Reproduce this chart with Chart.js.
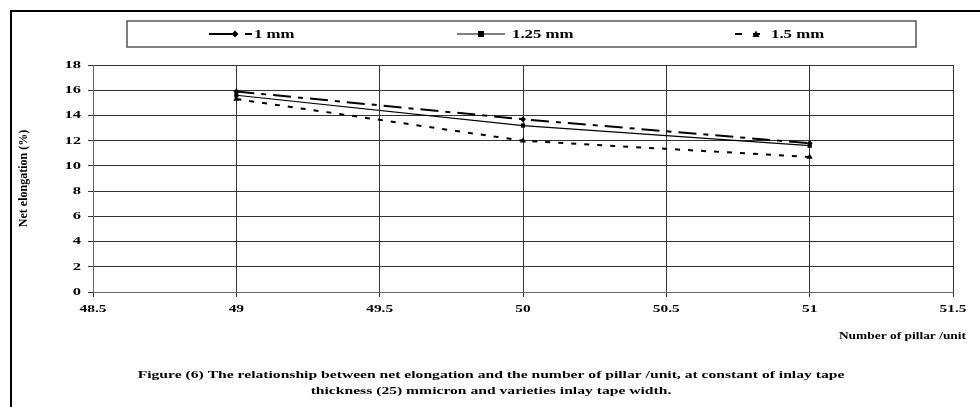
<!DOCTYPE html>
<html>
<head>
<meta charset="utf-8">
<script src="https://cdn.jsdelivr.net/npm/chart.js@4.4.1/dist/chart.umd.min.js"></script>
<style>
  html, body { margin: 0; padding: 0; background: #fff; }
  #wrap { width: 980px; height: 407px; position: relative; }
</style>
</head>
<body>
<div id="wrap"><canvas id="chart" width="980" height="407"></canvas></div>
<script>
// data
const pillars = [49, 50, 51];
const width1 = [15.9, 13.7, 11.8];
const width125 = [15.6, 13.2, 11.6];
const width15 = [15.3, 12.0, 10.7];
const seriesLabels = ['1 mm', '1.25 mm', '1.5 mm'];
const yTicks = [0, 2, 4, 6, 8, 10, 12, 14, 16, 18];
const xTicks = [48.5, 49, 49.5, 50, 50.5, 51, 51.5];

const FONT = "'Liberation Serif', 'Times New Roman', serif";

const toPoints = (vals) => vals.map((v, i) => ({ x: pillars[i], y: v }));

// the scanned figure's text is stretched sideways, so draw it that way
function wideText(ctx, text, x, y, align, sx) {
  ctx.save();
  ctx.translate(x, y);
  ctx.scale(sx, 1);
  ctx.textAlign = align;
  ctx.fillText(text, 0, 0);
  ctx.restore();
}

function marker(ctx, style, x, y) {
  ctx.beginPath();
  if (style === 'rect') {
    ctx.rect(x - 3, y - 3, 6, 6);
  } else if (style === 'triangle') {
    ctx.moveTo(x, y - 3.5);
    ctx.lineTo(x + 3.5, y + 3);
    ctx.lineTo(x - 3.5, y + 3);
  } else {
    ctx.moveTo(x, y - 3.5);
    ctx.lineTo(x + 3.5, y);
    ctx.lineTo(x, y + 3.5);
    ctx.lineTo(x - 3.5, y);
  }
  ctx.fill();
}

// frame, boxed legend, tick labels, x title and caption
const figurePlugin = {
  id: 'figure',
  afterDraw(chart) {
    const ctx = chart.ctx;
    ctx.save();
    // outer frame (runs off right/bottom edges)
    ctx.strokeStyle = '#000';
    ctx.lineWidth = 2;
    ctx.beginPath();
    ctx.moveTo(11, 420);
    ctx.lineTo(11, 11);
    ctx.lineTo(990, 11);
    ctx.stroke();

    // legend box
    ctx.strokeStyle = '#555';
    ctx.lineWidth = 1.5;
    ctx.strokeRect(127, 21, 789, 26);

    const items = [
      { x0: 209, x1: 252, mx: 235, tx: 254 },
      { x0: 457, x1: 505, mx: 481, tx: 512 },
      { x0: 735, x1: 768, mx: 756, tx: 771 }
    ];
    chart.data.datasets.forEach((ds, i) => {
      const it = items[i];
      const y = 34;
      ctx.strokeStyle = ds.borderColor;
      ctx.lineWidth = ds.borderWidth;
      ctx.setLineDash(ds.legendDash || []);
      ctx.beginPath();
      ctx.moveTo(it.x0, y);
      ctx.lineTo(it.x1, y);
      ctx.stroke();
      ctx.setLineDash([]);
      ctx.fillStyle = '#000';
      marker(ctx, ds.pointStyle, it.mx, y);
      ctx.font = 'bold 12px ' + FONT;
      ctx.textBaseline = 'middle';
      wideText(ctx, ds.label, it.tx, y + 1, 'left', 1.4);
    });

    ctx.fillStyle = '#000';
    ctx.font = 'bold 11px ' + FONT;
    ctx.textBaseline = 'middle';

    // tick labels placed through the scales
    const xs = chart.scales.x, ys = chart.scales.y;
    xTicks.forEach(v => wideText(ctx, String(v), xs.getPixelForValue(v), 309, 'center', 1.4));
    yTicks.forEach(v => wideText(ctx, String(v), 81, ys.getPixelForValue(v), 'right', 1.5));

    // x axis title
    wideText(ctx, 'Number of pillar /unit', 966, 336, 'right', 1.22);

    // caption
    wideText(ctx, 'Figure (6) The relationship between net elongation and the number of pillar /unit, at constant of inlay tape', 491, 375, 'center', 1.42);
    wideText(ctx, 'thickness (25) mmicron and varieties inlay tape width.', 491, 391, 'center', 1.42);
    ctx.restore();
  }
};

new Chart(document.getElementById('chart'), {
  type: 'line',
  data: {
    datasets: [
      {
        label: seriesLabels[0],
        data: toPoints(width1),
        borderColor: '#000',
        borderWidth: 2,
        borderDash: [18, 7, 5, 7],
        legendDash: [26, 10, 8, 20],
        pointStyle: 'rectRot',
        pointRadius: 3,
        backgroundColor: '#000',
        pointBorderWidth: 0
      },
      {
        label: seriesLabels[1],
        data: toPoints(width125),
        borderColor: '#000',
        borderWidth: 1.2,
        pointStyle: 'rect',
        pointRadius: 3,
        backgroundColor: '#000',
        pointBorderWidth: 0
      },
      {
        label: seriesLabels[2],
        data: toPoints(width15),
        borderColor: '#000',
        borderWidth: 2,
        borderDash: [5, 8],
        legendDash: [7, 11],
        pointStyle: 'triangle',
        pointRadius: 3.5,
        backgroundColor: '#000',
        pointBorderWidth: 0
      }
    ]
  },
  options: {
    responsive: false,
    animation: false,
    layout: { padding: { left: 0, top: 65, right: 27, bottom: 0 } },
    plugins: {
      legend: { display: false },
      tooltip: { enabled: false }
    },
    scales: {
      x: {
        type: 'linear',
        min: 48.5,
        max: 51.5,
        afterBuildTicks: (scale) => { scale.ticks = xTicks.map(v => ({ value: v })); },
        afterFit: (scale) => { scale.height = 115; },
        grid: { color: '#333', lineWidth: 1, tickLength: 5, tickColor: '#333' },
        border: { color: '#666', width: 1 },
        ticks: { display: false }
      },
      y: {
        min: 0,
        max: 18,
        afterBuildTicks: (scale) => { scale.ticks = yTicks.map(v => ({ value: v })); },
        afterFit: (scale) => { scale.width = 93; },
        grid: { color: '#333', lineWidth: 1, tickLength: 5, tickColor: '#333' },
        border: { color: '#666', width: 1 },
        title: {
          display: true,
          text: 'Net elongation (%)',
          color: '#000',
          padding: { top: 17, bottom: 0 },
          font: { family: FONT, size: 12, weight: 'bold' }
        },
        ticks: { display: false }
      }
    }
  },
  plugins: [figurePlugin]
});
</script>
</body>
</html>
